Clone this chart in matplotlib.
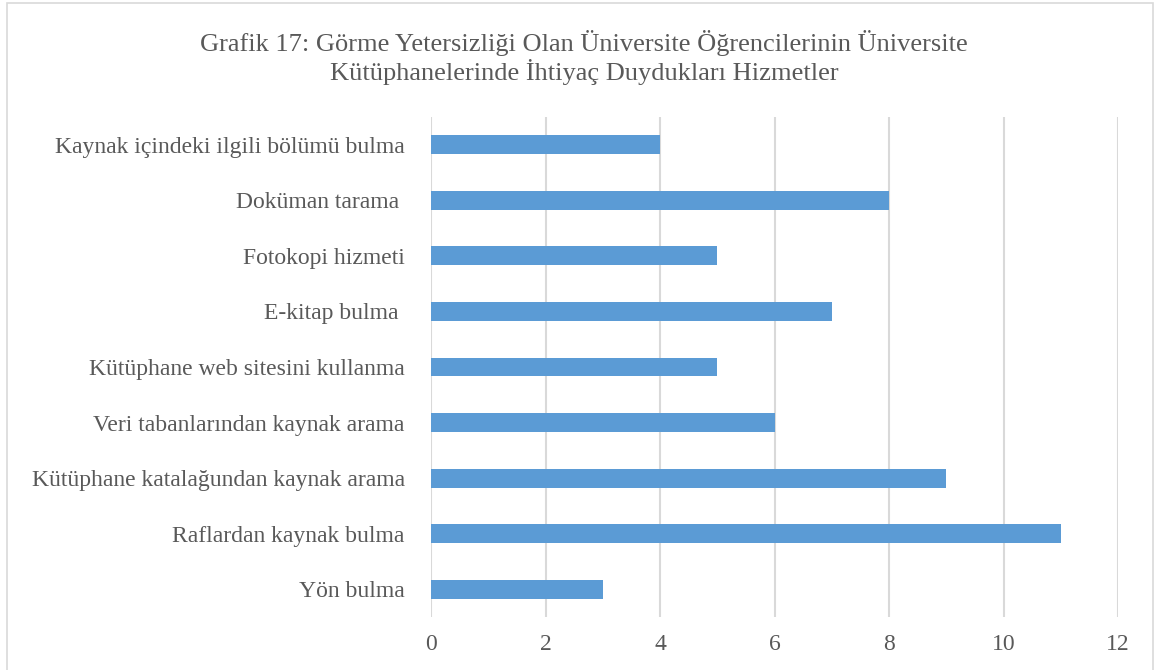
import matplotlib.pyplot as plt
from matplotlib.patches import Rectangle

categories = ['Yön bulma', 'Raflardan kaynak bulma', 'Kütüphane katalağundan kaynak arama',
              'Veri tabanlarından kaynak arama', 'Kütüphane web sitesini kullanma',
              'E-kitap bulma ', 'Fotokopi hizmeti', 'Doküman tarama ',
              'Kaynak içindeki ilgili bölümü bulma']
values = [3, 11, 9, 6, 5, 7, 5, 8, 4]
xticks = [0, 2, 4, 6, 8, 10, 12]
title = ('Grafik 17: Görme Yetersizliği Olan Üniversite Öğrencilerinin Üniversite\n'
         'Kütüphanelerinde İhtiyaç Duydukları Hizmetler')

plt.rcParams['font.family'] = ['Liberation Serif', 'DejaVu Serif']
grey = '#595959'

fig = plt.figure(figsize=(11.55, 6.7), dpi=100)
ax = fig.add_axes([0.3732, 0.0791, 0.5948, 0.7463])

y = range(len(categories))
ax.barh(y, values, height=0.34, color='#5B9BD5', zorder=3)
ax.set_yticks(list(y))
ax.set_yticklabels(categories, fontsize=17, color=grey)
ax.set_ylim(-0.5, len(categories) - 0.5)
ax.set_xlim(0, 12)
ax.set_xticks(xticks)
ax.set_xticklabels([str(v) for v in xticks], fontsize=17, color=grey)
ax.tick_params(length=0, pad=12)
ax.tick_params(axis='y', pad=19)
ax.grid(axis='x', color='#D9D9D9', linewidth=1.5, zorder=0)
for s in ax.spines.values():
    s.set_visible(False)

fig.text(0.5056, 0.955, title, ha='center', va='top', fontsize=19, color=grey,
         linespacing=1.15)

# chart frame
fig.add_artist(Rectangle((0.006, -0.05), 0.992, 1.045, transform=fig.transFigure,
                         fill=False, edgecolor='#D9D9D9', linewidth=1.2))

fig.savefig('out.png', dpi=100)
